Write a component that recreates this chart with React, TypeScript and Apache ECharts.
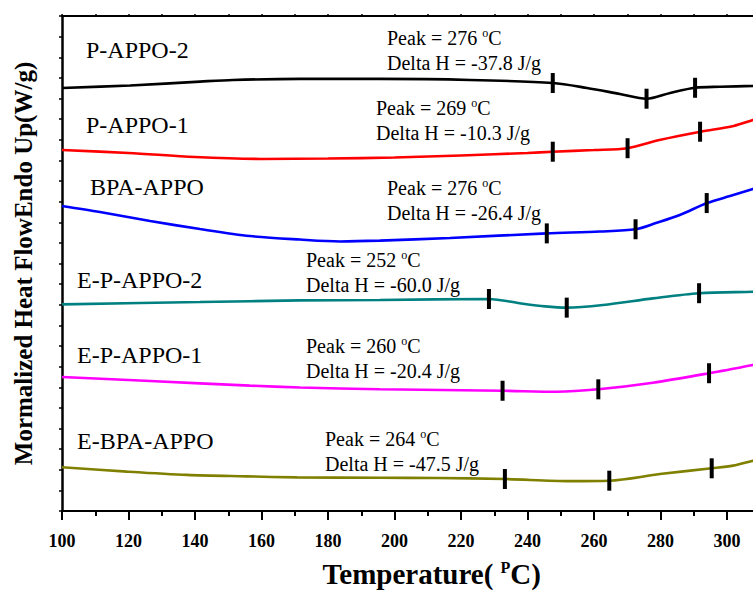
import React, { useEffect, useRef } from "react";
import * as echarts from "echarts";

// ---------- data ----------
const seriesNames = ["P-APPO-2", "P-APPO-1", "BPA-APPO", "E-P-APPO-2", "E-P-APPO-1", "E-BPA-APPO"];
const seriesColors = ["#000000", "#ff0000", "#0000ff", "#008080", "#ff00ff", "#808000"];
const peakTemps = [276, 269, 276, 252, 260, 264];
const deltaH = ["-37.8", "-10.3", "-26.4", "-60.0", "-20.4", "-47.5"];

const xTicks = { min: 100, max: 320, step: 20 };

const pAppo2T = [100, 120.5, 141.5, 151.4, 171.6, 195.6, 222.7, 247.6, 257.9, 267.8, 275.8, 282.9, 290.4, 297.9, 307.8, 310];
const pAppo2Y = [20.51, 20.63, 20.82, 20.9, 20.95, 20.95, 20.9, 20.75, 20.51, 20.22, 19.99, 20.27, 20.52, 20.57, 20.61, 20.63];

const pAppo1T = [100, 120, 140, 160, 180, 200, 220, 240, 247.6, 260, 270, 280, 292, 302, 307.8, 310];
const pAppo1Y = [17.5, 17.36, 17.16, 17.07, 17.09, 17.14, 17.24, 17.36, 17.42, 17.5, 17.59, 18.0, 18.39, 18.67, 18.96, 19.05];

const bpaT = [100, 111.4, 126.5, 141.5, 156.5, 171.6, 183.6, 195.6, 216.7, 245.8, 261.8, 272.5, 278.6, 285.8, 294, 300.9, 307.8, 310];
const bpaY = [14.79, 14.5, 14.06, 13.67, 13.33, 13.16, 13.07, 13.11, 13.24, 13.46, 13.55, 13.66, 13.96, 14.35, 14.93, 15.27, 15.61, 15.71];

const eP2T = [100, 141.5, 171.6, 195.6, 228.4, 237.7, 245.3, 251.8, 262.7, 277.7, 291.6, 307.8, 310];
const eP2Y = [10.02, 10.13, 10.21, 10.23, 10.28, 10.07, 9.92, 9.86, 9.99, 10.31, 10.56, 10.63, 10.64];

const eP1T = [100, 126.5, 156.5, 171.6, 195.6, 232.5, 248.8, 261.3, 277.7, 294.6, 307.8, 310];
const eP1Y = [6.5, 6.3, 6.08, 5.99, 5.9, 5.83, 5.78, 5.9, 6.22, 6.68, 7.08, 7.16];

const eBpaT = [100, 119.5, 137.6, 155.6, 170.7, 195.6, 212.7, 233.2, 252.8, 264.6, 279.8, 295.4, 301.8, 307.8, 310];
const eBpaY = [2.12, 1.91, 1.75, 1.68, 1.63, 1.61, 1.6, 1.55, 1.45, 1.47, 1.79, 2.07, 2.2, 2.44, 2.52];

const curveTemps = [pAppo2T, pAppo1T, bpaT, eP2T, eP1T, eBpaT];
const curveVals = [pAppo2Y, pAppo1Y, bpaY, eP2Y, eP1Y, eBpaY];

// analysis marks (onset, peak, end) on each curve
const markerTemps = [
  [247.6, 275.8, 290.4],
  [247.6, 270.1, 291.9],
  [245.8, 272.5, 293.9],
  [228.4, 251.8, 291.6],
  [232.5, 261.3, 294.6],
  [233.2, 264.6, 295.4],
];
const markerVals = [
  [20.75, 19.99, 20.52],
  [17.42, 17.59, 18.39],
  [13.46, 13.66, 14.93],
  [10.28, 9.86, 10.56],
  [5.83, 5.9, 6.68],
  [1.55, 1.47, 2.07],
];

// ---------- layout ----------
const W = 840;
const H = 592;
const nameLabelPos = [
  [86, 50],
  [86, 125],
  [90, 187],
  [77, 280],
  [77, 355],
  [77, 441],
];
const annotPos = [
  [387, 38],
  [376, 108],
  [387, 188],
  [306, 260],
  [306, 346],
  [325, 439],
];

const SERIF = "Liberation Serif";

export default function App() {
  const ref = useRef<HTMLDivElement>(null);

  useEffect(() => {
    if (!ref.current) return;
    document.body.style.overflow = "hidden";
    const chart = echarts.init(ref.current, undefined, { renderer: "svg" });

    const lineSeries = curveTemps.map((ts, i) => ({
      type: "line",
      name: seriesNames[i],
      data: ts.map((t, j) => [t, curveVals[i][j]]),
      showSymbol: false,
      smooth: 0.3,
      lineStyle: { color: seriesColors[i], width: 2.6 },
      itemStyle: { color: seriesColors[i] },
      z: 2,
    }));

    const markerSeries = markerTemps.map((ts, i) => ({
      type: "scatter",
      name: seriesNames[i] + " marks",
      data: ts.map((t, j) => [t, markerVals[i][j]]),
      symbol: "rect",
      symbolSize: [4, 20],
      itemStyle: { color: "#000", opacity: 1 },
      z: 5,
    }));

    const richMain = { fontFamily: SERIF, fontSize: 20, color: "#000", lineHeight: 22 };
    const richSup = { fontFamily: SERIF, fontSize: 12, color: "#000", lineHeight: 12, verticalAlign: "top" };

    const graphics: any[] = [];
    seriesNames.forEach((n, i) => {
      graphics.push({
        type: "text",
        x: nameLabelPos[i][0],
        y: nameLabelPos[i][1],
        style: {
          text: n,
          fontFamily: SERIF,
          fontSize: 24,
          fill: "#000",
          align: "left",
          verticalAlign: "middle",
        },
        z: 10,
      });
      graphics.push({
        type: "text",
        x: annotPos[i][0],
        y: annotPos[i][1],
        style: {
          text: `{a|Peak = ${peakTemps[i]} }{s|o}{a|C}`,
          rich: { a: richMain, s: richSup },
          align: "left",
          verticalAlign: "middle",
        },
        z: 10,
      });
      graphics.push({
        type: "text",
        x: annotPos[i][0],
        y: annotPos[i][1] + 24.5,
        style: {
          text: `Delta H = ${deltaH[i]} J/g`,
          fontFamily: SERIF,
          fontSize: 20,
          fill: "#000",
          align: "left",
          verticalAlign: "middle",
        },
        z: 10,
      });
    });

    const option: any = {
      animation: false,
      backgroundColor: "#ffffff",
      grid: {
        left: 62,
        top: 16,
        right: W - 793.5,
        bottom: H - 511,
        containLabel: false,
        outerBoundsMode: "none",
      },
      xAxis: [
        {
          type: "value",
          position: "bottom",
          min: xTicks.min,
          max: xTicks.max,
          interval: xTicks.step,
          axisLine: { show: true, onZero: false, lineStyle: { color: "#000", width: 2 } },
          axisTick: { show: true, inside: false, length: 9, lineStyle: { color: "#000", width: 2 } },
          minorTick: { show: true, splitNumber: 2, length: 5, lineStyle: { color: "#000", width: 2 } },
          splitLine: { show: false },
          axisLabel: {
            fontFamily: SERIF,
            fontWeight: "bold",
            fontSize: 18,
            color: "#000",
            margin: 21,
            showMaxLabel: false,
          },
          name: "{a|Temperature( }{s|P}{a|C)}",
          nameLocation: "middle",
          nameGap: 48,
          nameTextStyle: {
            padding: [0, 0, 0, 8],
            rich: {
              a: { fontFamily: SERIF, fontWeight: "bold", fontSize: 29, color: "#000", lineHeight: 30 },
              s: { fontFamily: SERIF, fontWeight: "bold", fontSize: 16, color: "#000", lineHeight: 16, verticalAlign: "top" },
            },
          },
        },
        {
          type: "value",
          position: "top",
          min: xTicks.min,
          max: xTicks.max,
          interval: xTicks.step,
          axisLine: { show: true, onZero: false, lineStyle: { color: "#000", width: 2 } },
          axisTick: { show: true, inside: false, length: 2, lineStyle: { color: "#000", width: 1.5 } },
          minorTick: { show: true, splitNumber: 2, length: 2, lineStyle: { color: "#000", width: 1.5 } },
          splitLine: { show: false },
          axisLabel: { show: false },
        },
      ],
      yAxis: {
        type: "value",
        min: 0,
        max: 24,
        interval: 1,
        axisLine: { show: true, onZero: false, lineStyle: { color: "#000", width: 2.5 } },
        axisTick: { show: true, inside: false, length: 3, lineStyle: { color: "#000", width: 1.5 } },
        axisLabel: { show: false },
        splitLine: { show: false },
        name: "Mormalized Heat FlowEndo Up(W/g)",
        nameLocation: "middle",
        nameRotate: 90,
        nameGap: 26,
        nameTextStyle: { fontFamily: SERIF, fontWeight: "bold", fontSize: 25, color: "#000" },
      },
      series: [...lineSeries, ...markerSeries],
      graphic: graphics,
    };

    chart.setOption(option);
    return () => {
      chart.dispose();
    };
  }, []);

  return (
    <div
      ref={ref}
      style={{ position: "fixed", left: 0, top: 0, width: W, height: H, background: "#fff" }}
    />
  );
}
